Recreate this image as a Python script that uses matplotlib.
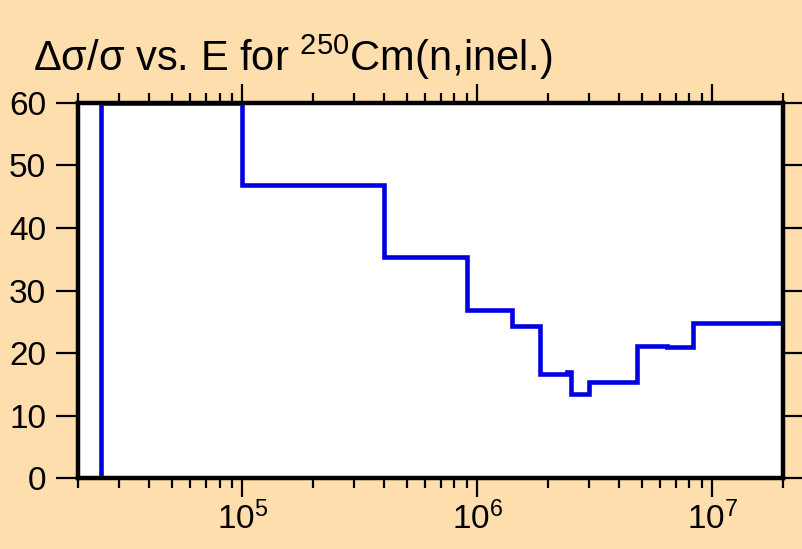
import numpy as np
import matplotlib
matplotlib.use("Agg")
import matplotlib.pyplot as plt
from matplotlib.ticker import LogLocator, FuncFormatter, NullFormatter

plt.rcParams['font.family'] = ['Liberation Sans', 'DejaVu Sans']
plt.rcParams['mathtext.fontset'] = 'custom'
plt.rcParams['mathtext.rm'] = 'Liberation Sans'
plt.rcParams['mathtext.it'] = 'Liberation Sans:italic'
plt.rcParams['mathtext.bf'] = 'Liberation Sans:bold'

# energy bin edges (eV) and relative uncertainty (%) per bin
edges = [2.5e4, 1e5, 4e5, 9e5, 1.4e6, 1.85e6, 2.4e6, 2.5e6, 3e6, 4.8e6, 6.4e6, 8.25e6, 2e7]
rel_unc = [60, 46.8, 35.4, 26.9, 24.3, 16.7, 16.9, 13.4, 15.3, 21.1, 20.9, 24.8]
y_ticks = [0, 10, 20, 30, 40, 50, 60]

bg = '#ffdead'
fig = plt.figure(figsize=(8.02, 5.49), dpi=100, facecolor=bg)
ax = fig.add_axes([0.0973, 0.1293, 0.9763 - 0.0973, 0.8124 - 0.1293])
ax.set_facecolor('white')

ax.stairs(rel_unc, edges, baseline=0, color='#0000e0', lw=3.3)

ax.set_xscale('log')
ax.set_xlim(2e4, 2e7)
ax.set_ylim(0, 60)
ax.set_yticks(y_ticks)

ax.xaxis.set_major_locator(LogLocator(base=10))
ax.xaxis.set_minor_locator(LogLocator(base=10, subs=np.arange(2, 10)))
ax.xaxis.set_minor_formatter(NullFormatter())
ax.xaxis.set_major_formatter(FuncFormatter(lambda v, p: r'$10^{%d}$' % round(np.log10(v))))

for s in ax.spines.values():
    s.set_linewidth(3.2)
    s.set_zorder(3)

ax.tick_params(axis='x', which='major', direction='out', length=14, width=1.6,
               top=True, bottom=True, labelsize=24, pad=3)
ax.tick_params(axis='x', which='minor', direction='out', length=7, width=1.6,
               top=True, bottom=True)
ax.tick_params(axis='y', which='major', direction='out', length=16, width=1.6,
               left=True, right=True, labelsize=24, pad=7)

fig.text(0.041, 1 - 71 / 549, r'Δσ/σ vs. E for $^{250}$Cm(n,inel.)',
         fontsize=30, ha='left', va='baseline')

fig.savefig('out.png', dpi=100, facecolor=bg)
